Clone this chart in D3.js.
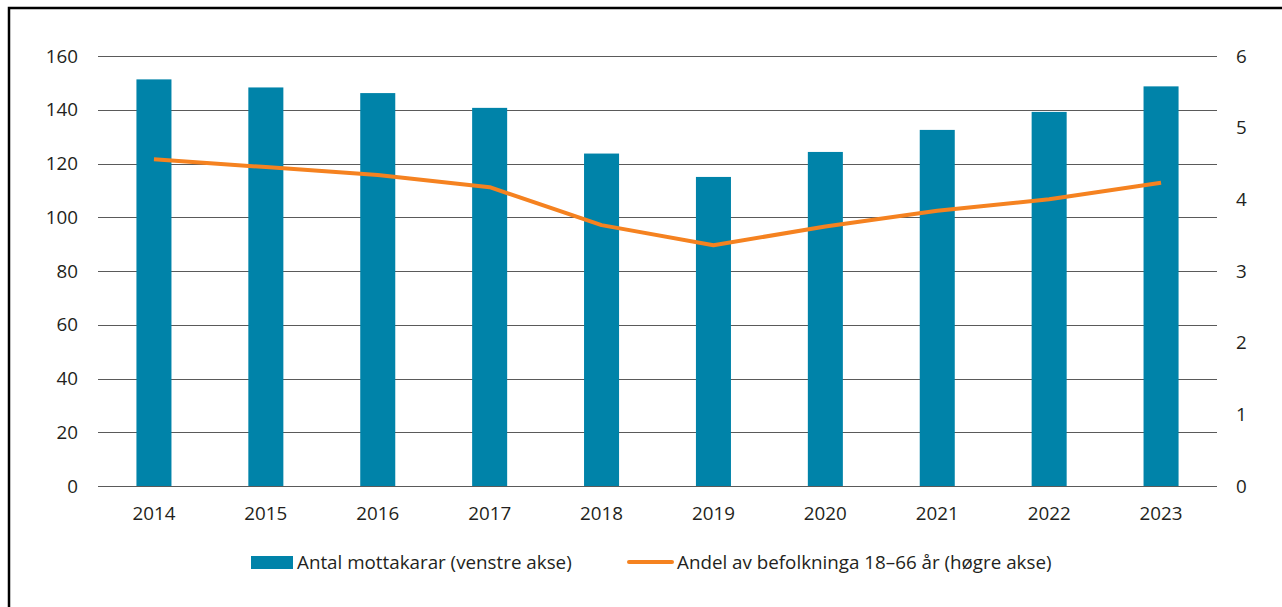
<!DOCTYPE html>
<html><head><meta charset="utf-8">
<script src="https://cdn.jsdelivr.net/npm/d3@7"></script>
<style>
html,body{margin:0;padding:0;background:#fff;}
svg{display:block;}
text{font-family:"Open Sans",sans-serif;fill:#231f20;}
</style></head>
<body>
<script>
const years = ["2014","2015","2016","2017","2018","2019","2020","2021","2022","2023"];
const mottakarar = [151.3, 148.3, 146.2, 140.7, 123.7, 115.0, 124.3, 132.5, 139.2, 148.7];
const andel = [4.56, 4.45, 4.34, 4.17, 3.64, 3.36, 3.62, 3.84, 4.00, 4.23];
const leftTicks = [0,20,40,60,80,100,120,140,160];
const rightTicks = [0,1,2,3,4,5,6];
const legendLabels = ["Antal mottakarar (venstre akse)", "Andel av befolkninga 18\u201366 år (høgre akse)"];

const W = 1282, H = 607;
const m = {left: 98, right: 1217, top: 56, bottom: 486};
const barColor = "#0083a9", lineColor = "#f58220";
const fs = "18.8px";

const svg = d3.select("body").append("svg").attr("width", W).attr("height", H);

// frame
svg.append("path").attr("d", `M9,${H} L9,8 L${W},8`).attr("fill","none").attr("stroke","#000").attr("stroke-width",2.5);

const x = d3.scaleBand().domain(years).range([m.left, m.right]).paddingInner(0.687).paddingOuter(0.3435);
const yL = d3.scaleLinear().domain([0,160]).range([m.bottom, m.top]);
const yR = d3.scaleLinear().domain([0,6]).range([m.bottom, m.top]);

// grid
svg.append("g").selectAll("line").data(leftTicks).join("line")
  .attr("x1", m.left).attr("x2", m.right)
  .attr("y1", d => Math.round(yL(d)) + 0.5).attr("y2", d => Math.round(yL(d)) + 0.5)
  .attr("stroke", "#5a5a5a").attr("stroke-width", 1);

// left axis
const axL = svg.append("g").attr("transform", `translate(${m.left},0)`)
  .call(d3.axisLeft(yL).tickValues(leftTicks).tickSize(0).tickPadding(20));
axL.select(".domain").remove();
axL.selectAll("text").style("font-size",fs).attr("fill","#231f20");

// right axis
const axR = svg.append("g").attr("transform", `translate(${m.right},0)`)
  .call(d3.axisRight(yR).tickValues(rightTicks).tickFormat(d3.format("d")).tickSize(0).tickPadding(19));
axR.select(".domain").remove();
axR.selectAll("text").style("font-size",fs).attr("fill","#231f20");

// bottom axis
const axB = svg.append("g").attr("transform", `translate(0,${m.bottom})`)
  .call(d3.axisBottom(x).tickSize(0).tickPadding(21));
axB.select(".domain").remove();
axB.selectAll("text").style("font-size",fs).attr("fill","#231f20");

// bars
svg.append("g").selectAll("rect").data(years).join("rect")
  .attr("x", d => x(d)).attr("width", x.bandwidth())
  .attr("y", (d,i) => yL(mottakarar[i])).attr("height", (d,i) => yL(0) - yL(mottakarar[i]))
  .attr("fill", barColor);

// line
const line = d3.line().x((d,i) => x(years[i]) + x.bandwidth()/2).y(d => yR(d));
svg.append("path").datum(andel).attr("d", line)
  .attr("fill","none").attr("stroke", lineColor).attr("stroke-width", 4).attr("stroke-linejoin","round");

// legend
const lg = svg.append("g");
lg.append("rect").attr("x", 251).attr("y", 556).attr("width", 42).attr("height", 13).attr("fill", barColor);
lg.append("text").attr("x", 297).attr("y", 562).attr("dy","0.35em").style("font-size",fs).text(legendLabels[0]);
lg.append("line").attr("x1", 629).attr("x2", 672).attr("y1", 562).attr("y2", 562)
  .attr("stroke", lineColor).attr("stroke-width", 4).attr("stroke-linecap","round");
lg.append("text").attr("x", 677).attr("y", 562).attr("dy","0.35em").style("font-size",fs).text(legendLabels[1]);
</script>
</body></html>
